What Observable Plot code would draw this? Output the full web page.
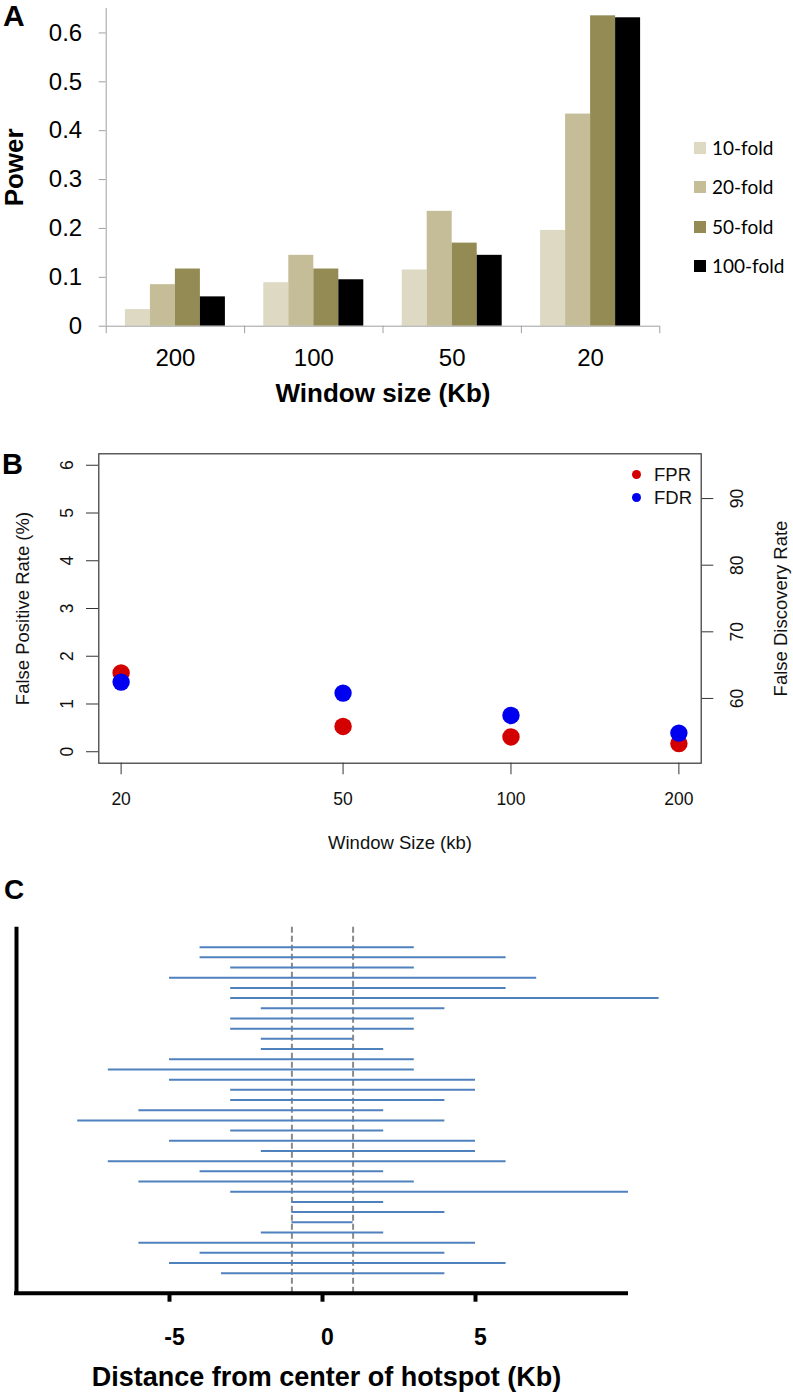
<!DOCTYPE html>
<html>
<head>
<meta charset="utf-8">
<script src="https://cdn.jsdelivr.net/npm/d3@7"></script>
<script src="https://cdn.jsdelivr.net/npm/@observablehq/plot@0.6"></script>
<style>
html, body { margin: 0; padding: 0; background: #fff; }
#root { position: relative; width: 793px; height: 1395px; overflow: hidden; font-family: "Liberation Sans", Arial, sans-serif; }
.letter { position: absolute; font-weight: bold; line-height: 1; font-family: "Liberation Sans", Arial, sans-serif; color: #000; }
.legA { position: absolute; left: 694px; height: 20px; display: flex; align-items: center; font-family: Lato, "Open Sans", sans-serif; font-size: 19px; line-height: 20px; color: #000; }
.legA .sw { width: 12px; height: 12px; margin-right: 6px; }
.legB { position: absolute; left: 632px; height: 23px; display: flex; align-items: center; font-family: "Liberation Sans", Arial, sans-serif; font-size: 18.5px; line-height: 23px; color: #111; }
.legB .dot { width: 9px; height: 9px; border-radius: 50%; margin-right: 13px; }
</style>
</head>
<body>
<div id="root"></div>
<script>
// ---------------- Panel A data ----------------
const windowsA = ["200", "100", "50", "20"];
const folds = ["10-fold", "20-fold", "50-fold", "100-fold"];
const foldColors = ["#ddd9c3", "#c4bd97", "#948a54", "#000000"];
const power10 = [0.034, 0.089, 0.115, 0.196];
const power20 = [0.085, 0.145, 0.235, 0.434];
const power50 = [0.117, 0.117, 0.170, 0.635];
const power100 = [0.060, 0.095, 0.145, 0.631];
const yTicksA = [0, 0.1, 0.2, 0.3, 0.4, 0.5, 0.6];

// ---------------- Panel B data ----------------
const windowsB = [20, 50, 100, 200];
const fpr = [1.65, 0.53, 0.31, 0.17];
const fdr = [62.45, 60.8, 57.45, 54.8];
const fprTicks = [0, 1, 2, 3, 4, 5, 6];
const fdrTicks = [60, 70, 80, 90];
const fprLim = [0, 6];
const fdrLim = [52, 95];
const seriesB = ["FPR", "FDR"];
const seriesBColors = ["#d40000", "#0000f0"];

// ---------------- Panel C data ----------------
const hotspotStart = [-4, -4, -3, -5, -3, -3, -2, -3, -3, -2, -2, -5, -7, -5, -3, -3, -6, -8, -3, -5, -2, -7, -4, -6, -3, -1, -1, -1, -2, -6, -4, -5, -3.3];
const hotspotEnd   = [ 3,  6,  3,  7,  6, 11,  4,  3,  3,  1,  2,  3,  3,  5,  5,  4,  2,  4,  2,  5,  5,  6,  2,  3, 10,  2,  4,  1,  2,  5,  4,  6,  4];
const dashAt = [-1, 1];
const xTicksC = [-5, 0, 5];
const xDomC = [-10, 10];

// ---------------- helpers ----------------
const W = 793;
const root = document.getElementById("root");
function place(node, top) {
  node.style.position = "absolute";
  node.style.left = "0px";
  node.style.top = top + "px";
  root.appendChild(node);
}
function addLetter(txt, left, top, size) {
  const d = document.createElement("div");
  d.className = "letter";
  d.textContent = txt;
  d.style.left = left + "px";
  d.style.top = top + "px";
  d.style.fontSize = size + "px";
  root.appendChild(d);
}
const font = "'Liberation Sans', Arial, sans-serif";
const plain = d => String(d);

// ---------------- Panel A ----------------
const powerByFold = [power10, power20, power50, power100];
const dataA = windowsA.flatMap((w, i) => folds.map((f, j) => ({window: w, fold: f, power: powerByFold[j][i]})));
const hA = 420, mTA = 8, mLA = 105.7, mRA = W - 659.3, mBA = hA - 325.7;
const bw = (W - mLA - mRA) / windowsA.length;
const barW = 25;
const groupPad = (bw - barW * folds.length) / 2;
const axisGray = "#a0a0a0";

const plotA = Plot.plot({
  width: W, height: hA,
  marginTop: mTA, marginBottom: mBA, marginLeft: mLA, marginRight: mRA,
  style: {fontFamily: font, background: "transparent", overflow: "visible"},
  x: {type: "band", domain: windowsA, padding: 0, round: false},
  y: {domain: [0, 0.65]},
  marks: [
    ...folds.map((f, j) => Plot.barY(dataA.filter(d => d.fold === f), {
      x: "window", y: "power", fill: foldColors[j],
      insetLeft: groupPad + barW * j,
      insetRight: bw - groupPad - barW * (j + 1)
    })),
    Plot.ruleY([0], {stroke: axisGray}),
    Plot.ruleX([windowsA[0]], {dx: -bw / 2, stroke: axisGray}),
    Plot.axisX({tickSize: 7.5, fill: "none", stroke: axisGray, dx: -bw / 2, label: null}),
    Plot.axisX({ticks: [windowsA[windowsA.length - 1]], tickSize: 7.5, fill: "none", stroke: axisGray, dx: bw / 2, label: null}),
    Plot.axisX({tickSize: 0, tickPadding: 23, fontSize: 24, fill: "#000", label: null}),
    Plot.axisY({ticks: yTicksA, tickFormat: d => d === 0 ? "0" : d.toFixed(1), tickSize: 7, tickPadding: 17, fontSize: 24, stroke: axisGray, fill: "#000", label: null}),
    Plot.text(["Window size (Kb)"], {frameAnchor: "bottom", lineAnchor: "top", dy: 57.6, fontSize: 26, fontWeight: "bold", fill: "#000"}),
    Plot.text(["Power"], {frameAnchor: "left", textAnchor: "middle", rotate: -90, dx: 14.5 - mLA, fontSize: 26, fontWeight: "bold", fill: "#000"})
  ]
});
place(plotA, 0);

// legend A
folds.forEach((f, j) => {
  const row = document.createElement("div");
  row.className = "legA";
  row.style.top = (148.3 + 39.1 * j - 10) + "px";
  const sw = document.createElement("div");
  sw.className = "sw";
  sw.style.background = foldColors[j];
  const t = document.createElement("span");
  t.textContent = f;
  row.appendChild(sw); row.appendChild(t);
  root.appendChild(row);
});

// ---------------- Panel B ----------------
const topB = 440, hB = 420;
const mTB = 453.3 - topB, mBB = hB - (762.7 - topB), mLB = 98.3, mRB = W - 700.7;
const expandLog = 10 ** 0.04;
const xDomB = [windowsB[0] / expandLog, windowsB[windowsB.length - 1] * expandLog];
const expand = (lim) => { const e = (lim[1] - lim[0]) * 0.04; return [lim[0] - e, lim[1] + e]; };
const dataFPR = windowsB.map((w, i) => ({w, v: fpr[i]}));
const dataFDR = windowsB.map((w, i) => ({w, v: fdr[i]}));
const bStroke = "#333";
const bText = "#111";

const plotB1 = Plot.plot({
  width: W, height: hB,
  marginTop: mTB, marginBottom: mBB, marginLeft: mLB, marginRight: mRB,
  style: {fontFamily: font, background: "transparent", overflow: "visible"},
  x: {type: "log", domain: xDomB},
  y: {domain: expand(fprLim)},
  marks: [
    Plot.frame({stroke: bStroke, strokeWidth: 1.2}),
    Plot.axisY({ticks: fprTicks, tickFormat: plain, tickSize: 12.3, tickPadding: 14, tickRotate: -90, textAnchor: "middle", lineAnchor: "bottom", fontSize: 17.5, stroke: bStroke, fill: bText, label: null}),
    Plot.axisX({ticks: windowsB, tickFormat: plain, tickSize: 11.6, tickPadding: 17.4, fontSize: 17.5, stroke: bStroke, fill: bText, label: null}),
    Plot.dot(dataFPR, {x: "w", y: "v", r: 8.7, fill: seriesBColors[0]}),
    Plot.text(["False Positive Rate (%)"], {frameAnchor: "left", textAnchor: "middle", rotate: -90, dx: 22.2 - mLB, fontSize: 18.5, fill: bText}),
    Plot.text(["Window Size (kb)"], {frameAnchor: "bottom", lineAnchor: "top", dy: 835 - 762.7, fontSize: 18.5, fill: bText})
  ]
});
place(plotB1, topB);

const plotB2 = Plot.plot({
  width: W, height: hB,
  marginTop: mTB, marginBottom: mBB, marginLeft: mLB, marginRight: mRB,
  style: {fontFamily: font, background: "transparent", overflow: "visible"},
  x: {type: "log", domain: xDomB, axis: null},
  y: {domain: expand(fdrLim)},
  marks: [
    Plot.axisY({anchor: "right", ticks: fdrTicks, tickFormat: plain, tickSize: 11.6, tickPadding: 17.7, tickRotate: -90, textAnchor: "middle", lineAnchor: "top", fontSize: 17.5, stroke: bStroke, fill: bText, label: null}),
    Plot.dot(dataFDR, {x: "w", y: "v", r: 8.7, fill: seriesBColors[1]}),
    Plot.text(["False Discovery Rate"], {frameAnchor: "right", textAnchor: "middle", rotate: -90, lineAnchor: "top", dx: 773.3 - 700.7, fontSize: 18.5, fill: bText})
  ]
});
place(plotB2, topB);

// legend B
seriesB.forEach((s, j) => {
  const row = document.createElement("div");
  row.className = "legB";
  row.style.top = (474.7 + 23 * j - 11.5) + "px";
  const dot = document.createElement("div");
  dot.className = "dot";
  dot.style.background = seriesBColors[j];
  const t = document.createElement("span");
  t.textContent = s;
  row.appendChild(dot); row.appendChild(t);
  root.appendChild(row);
});

// ---------------- Panel C ----------------
const topC = 900, hC = 495;
const mTC = 926.7 - topC, mBC = hC - (1292.7 - topC), mLC = 16, mRC = W - 628;
const nRows = hotspotStart.length;
const padRows = 1.96;
const yDomC = [1 - padRows, nRows + padRows];
const rowIdx = d3.range(nRows);

const plotC = Plot.plot({
  width: W, height: hC,
  marginTop: mTC, marginBottom: mBC, marginLeft: mLC, marginRight: mRC,
  style: {fontFamily: font, background: "transparent", overflow: "visible"},
  x: {domain: xDomC},
  y: {domain: yDomC, reverse: true, axis: null},
  marks: [
    Plot.ruleX(dashAt, {stroke: "#8a8a8a", strokeWidth: 2, strokeDasharray: "6,3"}),
    Plot.ruleY(rowIdx, {y: i => i + 1, x1: i => hotspotStart[i], x2: i => hotspotEnd[i], stroke: "#4f81bd", strokeWidth: 2}),
    Plot.ruleX([xDomC[0]], {stroke: "#000", strokeWidth: 4}),
    Plot.ruleY([yDomC[1]], {stroke: "#000", strokeWidth: 4, insetLeft: -2}),
    Plot.axisX({ticks: xTicksC, tickSize: 9, strokeWidth: 4, stroke: "#000", fill: "none", label: null}),
    Plot.axisX({ticks: xTicksC, tickFormat: plain, tickSize: 0, tickPadding: 35.6, dx: 5, fontSize: 23, fontWeight: "bold", fill: "#000", label: null}),
    Plot.text(["Distance from center of hotspot (Kb)"], {frameAnchor: "bottom", lineAnchor: "top", dy: 74, dx: 4, fontSize: 27, fontWeight: "bold", fill: "#000"})
  ]
});
place(plotC, topC);

// panel letters
addLetter("A", 3, 1.1, 30);
addLetter("B", 2, 449.5, 29);
addLetter("C", 4, 876.3, 28);
</script>
</body>
</html>
